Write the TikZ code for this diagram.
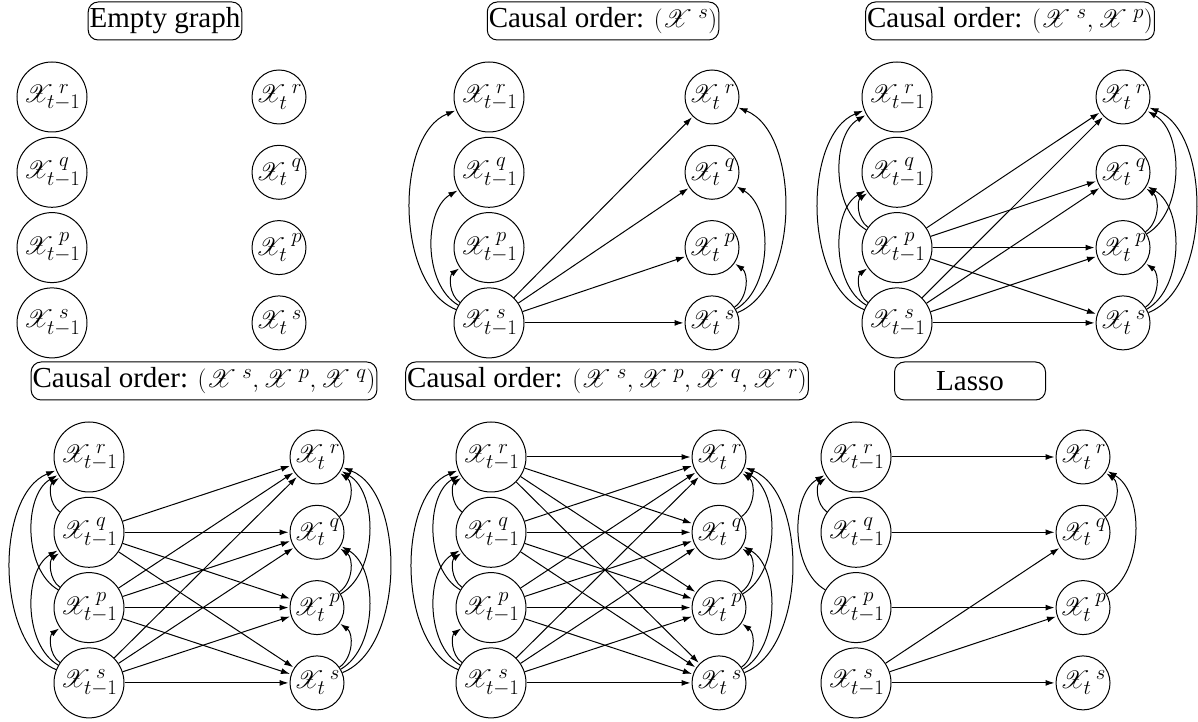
\documentclass[tikz,border=0pt]{standalone}
\usepackage{fontspec}
\setmainfont{Liberation Serif}
\usepackage{mathrsfs}
\usetikzlibrary{arrows.meta}
\newcommand{\XV}[2]{\mathscr{X}^{\mkern5mu #1}_{#2}}
\newcommand{\mkpanel}[4]{%
  \foreach \v/\k in {r/0,q/1,p/2,s/3} {%
    \node[lnode] (#1\v0) at (#2, {#4-75.3*\k}) {\makebox[0pt]{$\XV{\v}{t-1}$}};
    \node[rnode] (#1\v1) at (#3, {#4-75.3*\k}) {\makebox[0pt]{$\XV{\v}{t}$}};
  }}
\begin{document}
\begin{tikzpicture}[x=1pt,y=1pt,
  every node/.style={font=\fontsize{29}{35}\selectfont},
  lnode/.style={draw, circle, line width=1, minimum size=70, inner sep=0, font=\fontsize{30.5}{35}\selectfont},
  rnode/.style={draw, circle, line width=1, minimum size=54, inner sep=0, font=\fontsize{30.5}{35}\selectfont},
  ttl/.style={draw, rounded corners=10, line width=1, minimum width=151, minimum height=38, inner xsep=1.5, inner ysep=0},
  arr/.style={-{Latex[length=9,width=6]}, line width=1, shorten >=1},
  cl1/.style={bend left=55},
  cl2/.style={bend left=60, looseness=0.9},
  cl3/.style={bend left=68, looseness=0.85},
  cr1/.style={bend right=55},
  cr2/.style={bend right=60, looseness=0.9},
  cr3/.style={bend right=68, looseness=0.85}]
\useasboundingbox (0,0) rectangle (1198,722);
% titles
\node[ttl] (tA) at (165,701) {Empty graph};
\node[ttl] (tB) at (603,701) {Causal order: $(\XV{s}{})$};
\node[ttl] (tC) at (1010,701) {Causal order: $(\XV{s}{}, \XV{p}{})$};
\node[ttl] (tD) at (204,341) {Causal order: $(\XV{s}{}, \XV{p}{}, \XV{q}{})$};
\node[ttl] (tE) at (607,341) {Causal order: $(\XV{s}{}, \XV{p}{}, \XV{q}{}, \XV{r}{})$};
\node[ttl] (tF) at (970,341) {Lasso};
% panels
\mkpanel{A}{52}{279}{625}
\mkpanel{B}{489}{712}{625}
\mkpanel{C}{897}{1123}{625}
\mkpanel{D}{89}{317}{265}
\mkpanel{E}{491}{719}{265}
\mkpanel{F}{856}{1083}{265}
% panel B
\draw[arr] (Bs0) to[cl1] (Bp0);
\draw[arr] (Bs0) to[cl2] (Bq0);
\draw[arr] (Bs0) to[cl3] (Br0);
\draw[arr] (Bs1) to[cr1] (Bp1);
\draw[arr] (Bs1) to[cr2] (Bq1);
\draw[arr] (Bs1) to[cr3] (Br1);
\foreach \b in {r,q,p,s} \draw[arr] (Bs0) -- (B\b1);
% panels C, D, E
\foreach \pre in {C,D,E} {
  \draw[arr] (\pre s0) to[cl1] (\pre p0);
  \draw[arr] (\pre s0) to[cl2] (\pre q0);
  \draw[arr] (\pre s0) to[cl3] (\pre r0);
  \draw[arr] (\pre p0) to[cl1] (\pre q0);
  \draw[arr] (\pre p0) to[cl2] (\pre r0);
  \draw[arr] (\pre s1) to[cr1] (\pre p1);
  \draw[arr] (\pre s1) to[cr2] (\pre q1);
  \draw[arr] (\pre s1) to[cr3] (\pre r1);
  \draw[arr] (\pre p1) to[cr1] (\pre q1);
  \draw[arr] (\pre p1) to[cr2] (\pre r1);
}
\foreach \pre in {D,E} {
  \draw[arr] (\pre q0) to[cl1] (\pre r0);
  \draw[arr] (\pre q1) to[cr1] (\pre r1);
}
\foreach \a in {s,p} \foreach \b in {r,q,p,s} \draw[arr] (C\a0) -- (C\b1);
\foreach \a in {s,p,q} \foreach \b in {r,q,p,s} \draw[arr] (D\a0) -- (D\b1);
\foreach \a in {s,p,q,r} \foreach \b in {r,q,p,s} \draw[arr] (E\a0) -- (E\b1);
% panel F (Lasso)
\foreach \a in {r,q,p,s} \draw[arr] (F\a0) -- (F\a1);
\draw[arr] (Fs0) -- (Fq1);
\draw[arr] (Fs0) -- (Fp1);
\draw[arr] (Fq0) to[cl1] (Fr0);
\draw[arr] (Fp0) to[cl2] (Fr0);
\draw[arr] (Fq1) to[cr1] (Fr1);
\draw[arr] (Fp1) to[cr2] (Fr1);
\end{tikzpicture}
\end{document}
